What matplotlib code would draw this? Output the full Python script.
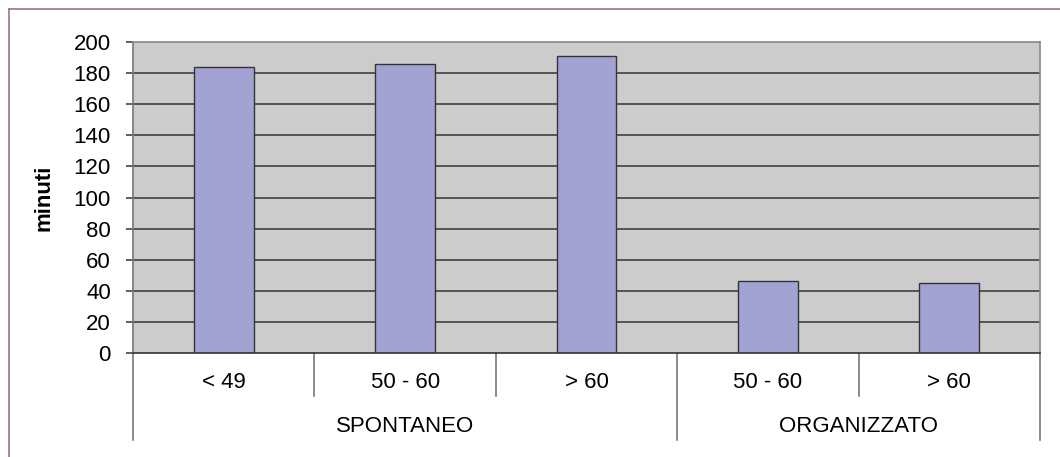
import numpy as np
import matplotlib
matplotlib.use('Agg')
import matplotlib.pyplot as plt
from matplotlib.lines import Line2D

plt.rcParams['font.family'] = ['Liberation Sans', 'DejaVu Sans']

# data
categories = ['< 49', '50 - 60', '> 60', '50 - 60', '> 60']
minutes = [184, 186, 191, 46, 45]
groups = ['SPONTANEO', 'ORGANIZZATO']
group_sizes = [3, 2]
yticks = list(range(0, 201, 20))

W, H = 1060, 457
fig = plt.figure(figsize=(W / 100, H / 100), dpi=100)
ax = fig.add_axes([133 / W, (H - 353) / H, (1040 - 133) / W, (353 - 42) / H])
ax.set_facecolor('#CCCCCC')

x = np.arange(len(categories))
ax.set_axisbelow(True)
for t in yticks[1:-1]:
    ax.axhline(t, color='#333333', lw=1.1, zorder=1)
ax.bar(x, minutes, width=0.33, color='#A3A3D3', edgecolor='#333333', lw=1.0, zorder=2)

ax.set_xlim(-0.5, len(categories) - 0.5)
ax.set_ylim(0, 200)
ax.set_yticks(yticks)
ax.tick_params(axis='y', length=5, width=1.1, color='#333333', pad=11, labelsize=16)
ax.set_xticks([])
ax.set_ylabel('minuti', fontsize=16, fontweight='bold', labelpad=14)

for side in ['top', 'right']:
    ax.spines[side].set_color('#888888')
    ax.spines[side].set_linewidth(1.2)
ax.spines['left'].set_color('#777777')
ax.spines['left'].set_linewidth(1.2)
ax.spines['bottom'].set_color('#333333')
ax.spines['bottom'].set_linewidth(1.2)

# category axis with two levels
trans = ax.get_xaxis_transform()
ax_h = 311.0
cat_sep = -43 / ax_h
grp_sep = -87 / ax_h
for i, lab in enumerate(categories):
    ax.text(i, -30 / ax_h, lab, transform=trans, ha='center', va='center', fontsize=16)

bounds = np.cumsum([0] + group_sizes)
for b in range(1, len(categories)):
    depth = grp_sep if b in bounds else cat_sep
    ax.add_line(Line2D([b - 0.5, b - 0.5], [0, depth], transform=trans, color='#777777',
                       lw=1.2, clip_on=False))
for b in [0, len(categories)]:
    ax.add_line(Line2D([b - 0.5, b - 0.5], [0, grp_sep], transform=trans, color='#777777',
                       lw=1.2, clip_on=False))
for g, lab in enumerate(groups):
    mid = (bounds[g] + bounds[g + 1] - 1) / 2
    ax.text(mid, -74 / ax_h, lab, transform=trans, ha='center', va='center', fontsize=16)

# outer frame of the original picture
fig.add_artist(Line2D([9 / W, 1], [1 - 9 / H, 1 - 9 / H], transform=fig.transFigure,
                      color='#A07080', lw=1.2))
fig.add_artist(Line2D([9 / W, 9 / W], [0, 1 - 9 / H], transform=fig.transFigure,
                      color='#A07080', lw=1.2))

fig.savefig('out.png', dpi=100)
